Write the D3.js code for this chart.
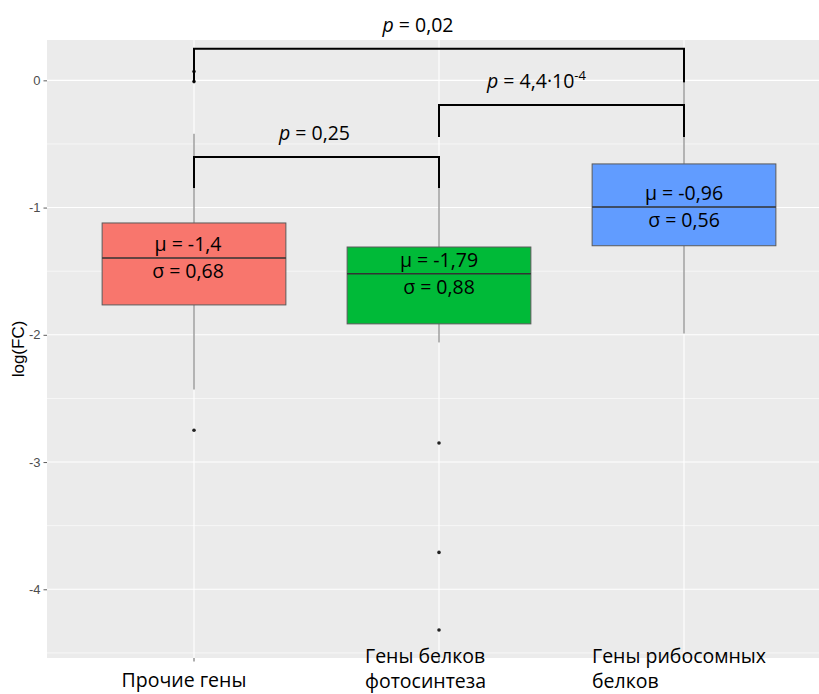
<!DOCTYPE html>
<html>
<head>
<meta charset="utf-8">
<script src="https://cdn.jsdelivr.net/npm/d3@7"></script>
<style>
  body { margin: 0; background: #fff; }
  svg { display: block; }
</style>
</head>
<body>
<div id="chart"></div>
<script>
// groups and their box statistics (log FC)
const categories = ["Прочие гены", "Гены белков\nфотосинтеза", "Гены рибосомных\nбелков"];
const lowerWhisker = [-2.43, -2.06, -1.99];
const lowerQuartile = [-1.765, -1.914, -1.30];
const medians = [-1.396, -1.52, -0.995];
const upperQuartile = [-1.121, -1.31, -0.657];
const upperWhisker = [-0.42, -0.62, -0.02];
const outliers = [[0.07, -0.01, -2.75], [-2.85, -3.71, -4.32], []];
const fills = ["#F8766D", "#00BA38", "#619CFF"];
const muLabels = ["μ = -1,4", "μ = -1,79", "μ = -0,96"];
const sigmaLabels = ["σ = 0,68", "σ = 0,88", "σ = 0,56"];

// significance brackets (group index 1-based)
const bracketFrom = [1, 2, 1];
const bracketTo = [3, 3, 2];
const bracketTop = [0.248, -0.194, -0.602];
const bracketLeg = [-0.017, -0.445, -0.846];
const pValues = ["0,02", "4,4·10", "0,25"];
const pExponents = ["", "-4", ""];

const yTicks = [0, -1, -2, -3, -4];
const yMinor = [-0.5, -1.5, -2.5, -3.5, -4.5];

const width = 819, height = 694;
const panel = {left: 47, top: 40, right: 831, bottom: 658};

const x = d3.scaleLinear().domain([0.4, 3.6]).range([panel.left, panel.right]);
const y = d3.scaleLinear().domain([-4.54, 0.317]).range([panel.bottom, panel.top]);
const boxW = x(0.75) - x(0);

const svg = d3.select("#chart").append("svg")
  .attr("width", width)
  .attr("height", height)
  .attr("viewBox", [0, 0, width, height]);

const labelFont = "'Open Sans', 'Noto Sans', sans-serif";
const labelSize = 19.5;

// panel background + grid
svg.append("rect")
  .attr("x", panel.left).attr("y", panel.top)
  .attr("width", panel.right - panel.left).attr("height", panel.bottom - panel.top)
  .attr("fill", "#EBEBEB");

svg.append("g").selectAll("line")
  .data(yMinor)
  .join("line")
    .attr("x1", panel.left).attr("x2", panel.right)
    .attr("y1", d => y(d)).attr("y2", d => y(d))
    .attr("stroke", "#fff").attr("stroke-width", 0.6);

svg.append("g").selectAll("line")
  .data(yTicks)
  .join("line")
    .attr("x1", panel.left).attr("x2", panel.right)
    .attr("y1", d => y(d)).attr("y2", d => y(d))
    .attr("stroke", "#fff").attr("stroke-width", 1.1);

svg.append("g").selectAll("line")
  .data(categories)
  .join("line")
    .attr("x1", (d, i) => x(i + 1)).attr("x2", (d, i) => x(i + 1))
    .attr("y1", panel.top).attr("y2", panel.bottom)
    .attr("stroke", "#fff").attr("stroke-width", 1.1);

// y axis
const yAxis = d3.axisLeft(y).tickValues(yTicks).tickSize(3.5).tickPadding(3).tickFormat(d => String(d));
svg.append("g")
  .attr("transform", `translate(${panel.left},0)`)
  .call(yAxis)
  .call(g => g.select(".domain").remove())
  .call(g => g.selectAll(".tick line").attr("stroke", "#333").attr("stroke-width", 0.8))
  .call(g => g.selectAll(".tick text")
    .attr("fill", "#4D4D4D")
    .attr("font-family", "'Liberation Sans', Arial, sans-serif")
    .attr("font-size", 13));

svg.append("text")
  .attr("transform", `translate(24,${(panel.top + panel.bottom) / 2}) rotate(-90)`)
  .attr("text-anchor", "middle")
  .attr("font-family", "'Liberation Sans', Arial, sans-serif")
  .attr("font-size", 17)
  .attr("fill", "#000")
  .text("log(FC)");

// x ticks (ggplot labels were replaced by overlaid text)
svg.append("g").selectAll("line")
  .data(categories)
  .join("line")
    .attr("x1", (d, i) => x(i + 1)).attr("x2", (d, i) => x(i + 1))
    .attr("y1", panel.bottom).attr("y2", panel.bottom + 3.5)
    .attr("stroke", "#333").attr("stroke-width", 0.8);

// boxplots
const boxes = svg.append("g").selectAll("g")
  .data(categories)
  .join("g");

boxes.append("line")
  .attr("x1", (d, i) => x(i + 1)).attr("x2", (d, i) => x(i + 1))
  .attr("y1", (d, i) => y(upperWhisker[i])).attr("y2", (d, i) => y(upperQuartile[i]))
  .attr("stroke", "#707070").attr("stroke-width", 1);

boxes.append("line")
  .attr("x1", (d, i) => x(i + 1)).attr("x2", (d, i) => x(i + 1))
  .attr("y1", (d, i) => y(lowerQuartile[i])).attr("y2", (d, i) => y(lowerWhisker[i]))
  .attr("stroke", "#707070").attr("stroke-width", 1);

boxes.append("rect")
  .attr("x", (d, i) => x(i + 1) - boxW / 2)
  .attr("y", (d, i) => y(upperQuartile[i]))
  .attr("width", boxW)
  .attr("height", (d, i) => y(lowerQuartile[i]) - y(upperQuartile[i]))
  .attr("fill", (d, i) => fills[i])
  .attr("stroke", "#5a5a5a").attr("stroke-width", 1);

boxes.append("line")
  .attr("x1", (d, i) => x(i + 1) - boxW / 2).attr("x2", (d, i) => x(i + 1) + boxW / 2)
  .attr("y1", (d, i) => y(medians[i])).attr("y2", (d, i) => y(medians[i]))
  .attr("stroke", "#333").attr("stroke-width", 1.5);

boxes.selectAll("circle")
  .data((d, i) => outliers[i].map(v => ({i, v})))
  .join("circle")
    .attr("cx", d => x(d.i + 1))
    .attr("cy", d => y(d.v))
    .attr("r", 1.8)
    .attr("fill", "#222");

// mean / sd annotations
const statShift = [-6, 0, 0];
boxes.append("text")
  .attr("x", (d, i) => x(i + 1) + statShift[i])
  .attr("y", (d, i) => y(medians[i]) - 7)
  .attr("text-anchor", "middle")
  .attr("font-family", labelFont)
  .attr("font-size", labelSize)
  .attr("fill", "#000")
  .text((d, i) => muLabels[i]);

boxes.append("text")
  .attr("x", (d, i) => x(i + 1) + statShift[i])
  .attr("y", (d, i) => y(medians[i]) + 20)
  .attr("text-anchor", "middle")
  .attr("font-family", labelFont)
  .attr("font-size", labelSize)
  .attr("fill", "#000")
  .text((d, i) => sigmaLabels[i]);

// significance brackets
const labelShift = [-21, -25, -2];
const bracket = svg.append("g").selectAll("g")
  .data(pValues)
  .join("g");

bracket.append("path")
  .attr("d", (d, i) => {
    const x0 = x(bracketFrom[i]), x1 = x(bracketTo[i]);
    return `M${x0},${y(bracketLeg[i])}V${y(bracketTop[i])}H${x1}V${y(bracketLeg[i])}`;
  })
  .attr("fill", "none")
  .attr("stroke", "#000")
  .attr("stroke-width", 2);

bracket.append("text")
  .attr("x", (d, i) => (x(bracketFrom[i]) + x(bracketTo[i])) / 2 + labelShift[i])
  .attr("y", (d, i) => y(bracketTop[i]) - 17)
  .attr("text-anchor", "middle")
  .attr("font-family", labelFont)
  .attr("font-size", labelSize)
  .attr("fill", "#000")
  .each(function(d, i) {
    const t = d3.select(this);
    t.append("tspan").attr("font-style", "italic").text("p");
    t.append("tspan").text(" = " + d);
    if (pExponents[i]) {
      t.append("tspan").attr("font-size", 13).attr("dy", -8).text(pExponents[i]);
    }
  });

// category labels (overlaid text boxes)
const catAnchor = ["middle", "start", "start"];
const catShift = [-10, -74, -92];
const cat = svg.append("g").selectAll("text")
  .data(categories)
  .join("text")
    .attr("x", (d, i) => x(i + 1) + catShift[i])
    .attr("y", (d, i) => d.includes("\n") ? 663 : 687)
    .attr("text-anchor", (d, i) => catAnchor[i])
    .attr("font-family", labelFont)
    .attr("font-size", labelSize)
    .attr("fill", "#000");

cat.selectAll("tspan")
  .data(d => d.split("\n"))
  .join("tspan")
    .attr("x", function() { return this.parentNode.getAttribute("x"); })
    .attr("dy", (d, j) => j ? 25 : 0)
    .text(d => d);
</script>
</body>
</html>
